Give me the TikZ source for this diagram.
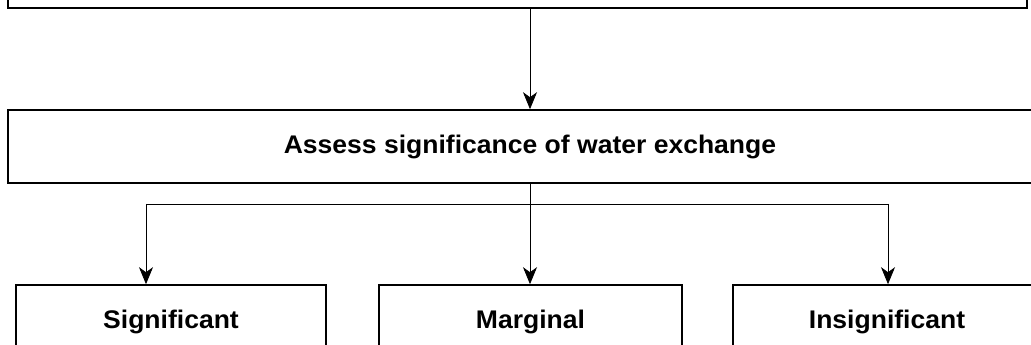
\documentclass[tikz,border=0pt]{standalone}
\usepackage{fontspec}
\newfontfamily\boxfont[FakeStretch=1.04]{Liberation Sans}
\usetikzlibrary{arrows.meta,positioning,shadows,calc}

\begin{document}
\begin{tikzpicture}[
    x=1pt, y=1pt,
    box/.style={draw, rectangle, line width=1.6pt, fill=white, inner sep=0pt,
        drop shadow={shadow xshift=1.4pt, shadow yshift=-1.4pt, fill=gray!70, opacity=1},
        font=\boxfont\bfseries\fontsize{25.5}{30}\selectfont},
    arrow/.style={-{Stealth[length=17pt, width=14pt, inset=5pt]}, line width=0.8pt}
]
\clip (0,0) rectangle (1031,345);

% Top box (cut off)
\node[box, minimum width=1019, minimum height=60] (survey) at (517.5,367) {};

% Middle box
\node[box, minimum width=1044, minimum height=73] (assess) at (530,198.5) {Assess significance of water exchange};
\draw[arrow] (survey.south -| assess.north) -- (assess.north);

% Outcome boxes
\node[box, minimum width=310, minimum height=74] (sig) at (171,23) {Significant};
\node[box, minimum width=303, minimum height=74] (marg) at (530.5,23) {Marginal};
\node[box, minimum width=308, minimum height=74] (insig) at (887,23) {Insignificant};

% Branches
\coordinate (jl) at (146,141);
\coordinate (jm) at (assess.south |- jl);
\coordinate (jr) at (888,141);
\draw[line width=0.8pt] (assess.south) -- (jm);
\draw[line width=0.8pt] (jl) -- (jr);
\draw[arrow] (jl) -- (jl |- sig.north);
\draw[arrow] (jm) -- (jm |- marg.north);
\draw[arrow] (jr) -- (jr |- insig.north);

\end{tikzpicture}
\end{document}
